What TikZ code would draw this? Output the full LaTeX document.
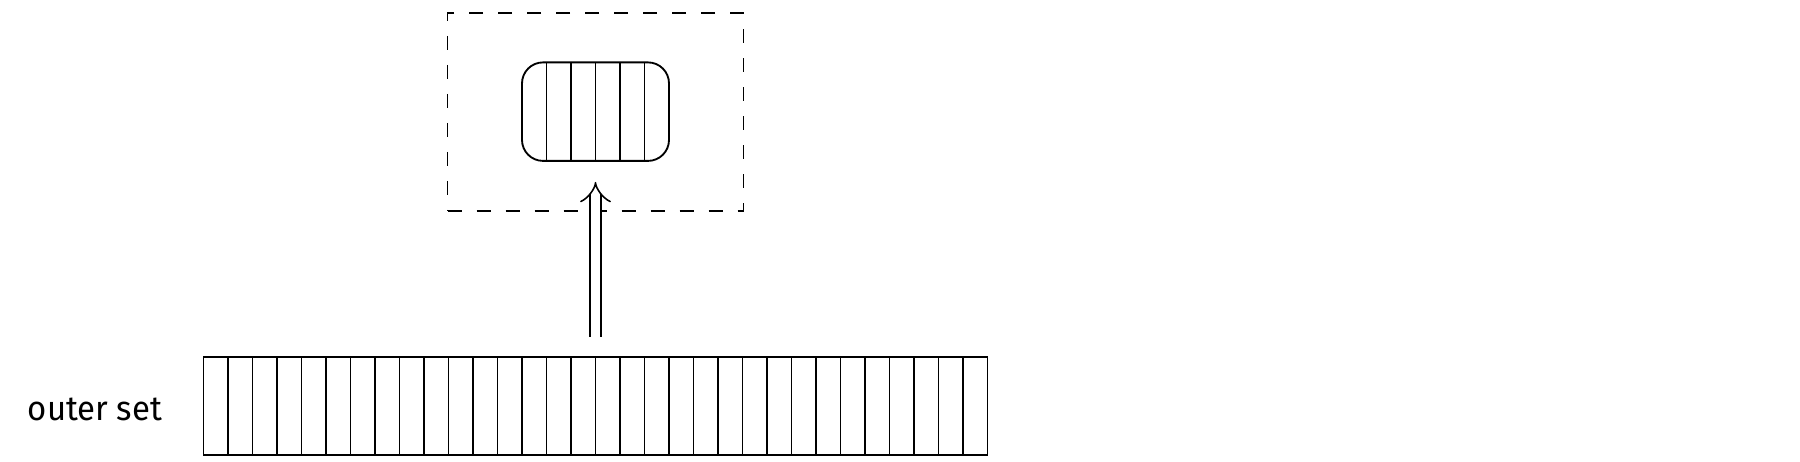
\documentclass[tikz,border=0pt]{standalone}
\usepackage{fontspec}
\setmainfont{Fira Sans}[FakeStretch=0.96]
\usetikzlibrary{arrows.meta,calc}
\begin{document}
\begin{tikzpicture}[
  line width=1.05pt,
  arr/.style={draw, minimum height=1.97cm, inner sep=0pt, outer sep=0pt},
  cellline/.style={line width=1.05pt},
  dashbox/.style={draw, dash pattern=on 0.28cm off 0.3cm, minimum width=5.92cm, minimum height=3.95cm, inner sep=0pt},
  lbl/.style={font=\fontsize{19.5}{22}\selectfont, inner sep=0pt, anchor=base}
]
\useasboundingbox (0,0) rectangle (36,-9.24);
% outer array
\node[arr, minimum width=15.68cm] (outer) at (11.91,-8.117) {};
\foreach \i in {1,...,31}
  \draw[cellline] ($(outer.north west)+(\i*0.49,0)$) -- ($(outer.south west)+(\i*0.49,0)$);
% inner array
\node[arr, minimum width=2.94cm, rounded corners=0.42cm] (inner) at (11.91,-2.233) {};
\foreach \i in {1,...,5}
  \draw[cellline] ($(inner.north west)+(\i*0.49,0)$) -- ($(inner.south west)+(\i*0.49,0)$);
% dashed box
\node[dashbox] (box) at (11.91,-2.24) {};
% arrow
\draw[double, double distance=0.19cm, line width=0.9pt, -{Implies}, shorten <=0.4cm, shorten >=0.42cm] (outer.north) -- (inner.south);
% label
\node[lbl] (label) at (1.9,-8.4) {outer set};
\end{tikzpicture}
\end{document}
